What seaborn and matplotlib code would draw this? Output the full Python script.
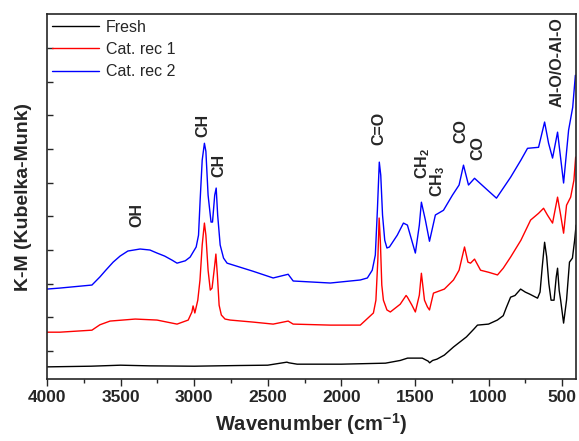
import numpy as np
import pandas as pd
import matplotlib
matplotlib.use('Agg')
import matplotlib.pyplot as plt
import seaborn as sns
from matplotlib.ticker import MultipleLocator

# --- data (K-M, arbitrary offset units) ---
fresh_wn = [4000, 3700, 3500, 3300, 3000, 2700, 2500, 2370, 2355, 2300, 2000, 1700, 1600,
            1550, 1450, 1410, 1400, 1380, 1350, 1300, 1238, 1150, 1100, 1075, 1000, 940, 900,
            880, 850, 820, 782, 750, 720, 667, 650, 635, 619, 605, 590, 575, 555, 540, 531, 520,
            510, 490, 470, 450, 430, 415, 405]
fresh_km = [-4.7, -4.5, -4.2, -4.4, -4.5, -4.3, -4.2, -3.3, -3.5, -3.9, -3.9, -3.6, -2.8,
            -2.1, -2.1, -3.0, -3.5, -2.8, -2.4, -1.2, 1.2, 4.2, 6.5, 7.7, 8.0, 9.2, 10.5,
            12.8, 16.0, 16.5, 18.4, 17.5, 16.9, 15.7, 17.5, 25.0, 32.3, 28.0, 20.0, 15.1, 15.1, 22.0, 24.6, 18.0,
            15.1, 8.3, 15.1, 26.4, 27.6, 32.9, 37.4]

rec1_wn = [4000, 3912, 3694, 3640, 3571, 3400, 3252, 3116, 3040, 3015, 3007, 2995, 2975, 2960,
           2945, 2930, 2920, 2905, 2890, 2878, 2860, 2852, 2842, 2830, 2815, 2790, 2755, 2600,
           2463, 2361, 2327, 2075, 1871, 1782, 1765, 1752, 1743, 1735, 1725, 1714, 1690, 1667,
           1600, 1560, 1551, 1520, 1497, 1470, 1456, 1435, 1415, 1401, 1374, 1300, 1238,
           1200, 1163, 1140, 1122, 1095, 1054, 1000, 939, 900, 850, 780, 714, 660, 626, 600,
           565, 531, 510, 490, 470, 442, 420, 408]
rec1_km = [5.6, 5.6, 6.2, 7.8, 8.9, 9.5, 9.2, 8.0, 9.2, 11.6, 13.4, 11.3, 15.1, 21.1,
           31.5, 38.0, 34.4, 24.0, 18.1, 18.7, 25.5, 28.8, 22.6, 13.6, 10.7, 9.5, 9.2, 8.6,
           8.0, 8.9, 8.0, 7.7, 7.7, 11.3, 15.1, 27.0, 39.5, 32.9, 19.6, 15.1, 12.2, 11.6,
           13.9, 16.5, 16.0, 13.6, 11.6, 16.6, 23.1, 15.1, 13.1, 12.2, 17.2, 18.4, 21.1,
           24.0, 30.9, 26.4, 26.1, 27.3, 24.0, 23.4, 22.6, 24.6, 27.9, 32.9, 38.9, 40.9, 42.4, 40.4,
           38.0, 45.7, 40.4, 35.0, 43.3, 45.7, 50.7, 57.6]

rec2_wn = [4000, 3912, 3694, 3640, 3600, 3550, 3503, 3450, 3367, 3300, 3252, 3200, 3150, 3116,
           3060, 3027, 2986, 2970, 2959, 2945, 2930, 2920, 2905, 2885, 2875, 2860, 2850, 2840,
           2823, 2800, 2776, 2600, 2463, 2361, 2327, 2075, 1871, 1823, 1790, 1769, 1755, 1742,
           1732, 1720, 1705, 1690, 1673, 1620, 1578, 1551, 1497, 1470, 1456, 1429, 1401, 1361,
           1306, 1245, 1200, 1170, 1136, 1095, 1007, 946, 850, 780, 735, 660, 619, 592, 565,
           531, 490, 456, 428, 410]
rec2_km = [18.4, 18.7, 19.6, 22.0, 24.0, 26.4, 28.2, 29.7, 30.3, 30.0, 29.1, 28.2, 27.0, 26.1,
           26.8, 27.9, 30.9, 34.4, 44.8, 56.7, 61.7, 59.3, 46.3, 38.3, 38.3, 46.3, 48.4, 40.4,
           31.5, 27.6, 26.1, 23.7, 21.7, 22.8, 20.8, 20.2, 21.1, 21.7, 24.0, 28.5, 41.8, 56.1,
           52.2, 40.4, 32.9, 30.6, 30.9, 34.4, 38.0, 37.4, 29.1, 37.4, 44.2, 38.9, 32.6, 40.4,
           41.8, 46.3, 49.3, 55.2, 49.3, 51.3, 47.8, 45.4, 51.6, 56.7, 60.2, 60.5, 68.0, 61.7, 57.3,
           65.0, 49.9, 65.6, 72.4, 81.9]

labels = ['Fresh', 'Cat. rec 1', 'Cat. rec 2']
colors = ['black', 'red', 'blue']

ann_text = ['OH', 'CH', 'CH', 'C=O', r'CH$_2$', r'CH$_3$', 'CO', 'CO', 'Al-O/O-Al-O']
ann_wn = [3388, 2939, 2830, 1748, 1449, 1347, 1190, 1075, 531]
ann_km = [40.4, 67.1, 55.2, 66.2, 55.8, 50.4, 65.3, 60.2, 85.8]

df = pd.concat([
    pd.DataFrame({'wn': fresh_wn, 'km': fresh_km, 'sample': labels[0]}),
    pd.DataFrame({'wn': rec1_wn, 'km': rec1_km, 'sample': labels[1]}),
    pd.DataFrame({'wn': rec2_wn, 'km': rec2_km, 'sample': labels[2]}),
], ignore_index=True)

sns.set_style('ticks')
plt.rcParams['font.family'] = ['Liberation Sans', 'DejaVu Sans']
plt.rcParams['mathtext.fontset'] = 'custom'
plt.rcParams['mathtext.rm'] = 'Liberation Sans:bold'
plt.rcParams['mathtext.default'] = 'rm'

fig = plt.figure(figsize=(5.79, 4.41), dpi=100)
ax = fig.add_axes([0.081, 0.1406, 0.914, 0.827])

sns.lineplot(data=df, x='wn', y='km', hue='sample', palette=dict(zip(labels, colors)),
             sort=False, estimator=None, linewidth=1.0, ax=ax)

for t, x, y in zip(ann_text, ann_wn, ann_km):
    ax.text(x, y, t, rotation=90, ha='center', va='center', fontsize=11.5, fontweight='bold')

ax.set_xlim(4000, 405)
ax.set_ylim(-8.3, 100)
ax.xaxis.set_major_locator(MultipleLocator(500))
ax.xaxis.set_minor_locator(MultipleLocator(250))
ax.set_yticks(np.arange(0, 100, 10))
ax.set_yticklabels([])
ax.tick_params(axis='x', which='major', direction='out', length=5, width=1, labelsize=12.5, pad=3)
ax.tick_params(axis='x', which='minor', direction='out', length=3, width=1)
ax.tick_params(axis='y', which='major', direction='in', length=4, width=1)
for lbl in ax.get_xticklabels():
    lbl.set_fontweight('bold')
for s in ax.spines.values():
    s.set_linewidth(1.2)
    s.set_visible(True)

ax.set_xlabel('Wavenumber (cm$^{-1}$)', fontsize=14.5, fontweight='bold', labelpad=4)
ax.set_ylabel('K-M (Kubelka-Munk)', fontsize=14, fontweight='bold', labelpad=7)

leg = ax.legend(loc='upper left', frameon=False, fontsize=11.5, handlelength=2.9,
                handletextpad=0.45, labelspacing=0.45, borderaxespad=0.15, borderpad=0.2)
leg.set_title(None)

plt.savefig('out.png', dpi=100)
